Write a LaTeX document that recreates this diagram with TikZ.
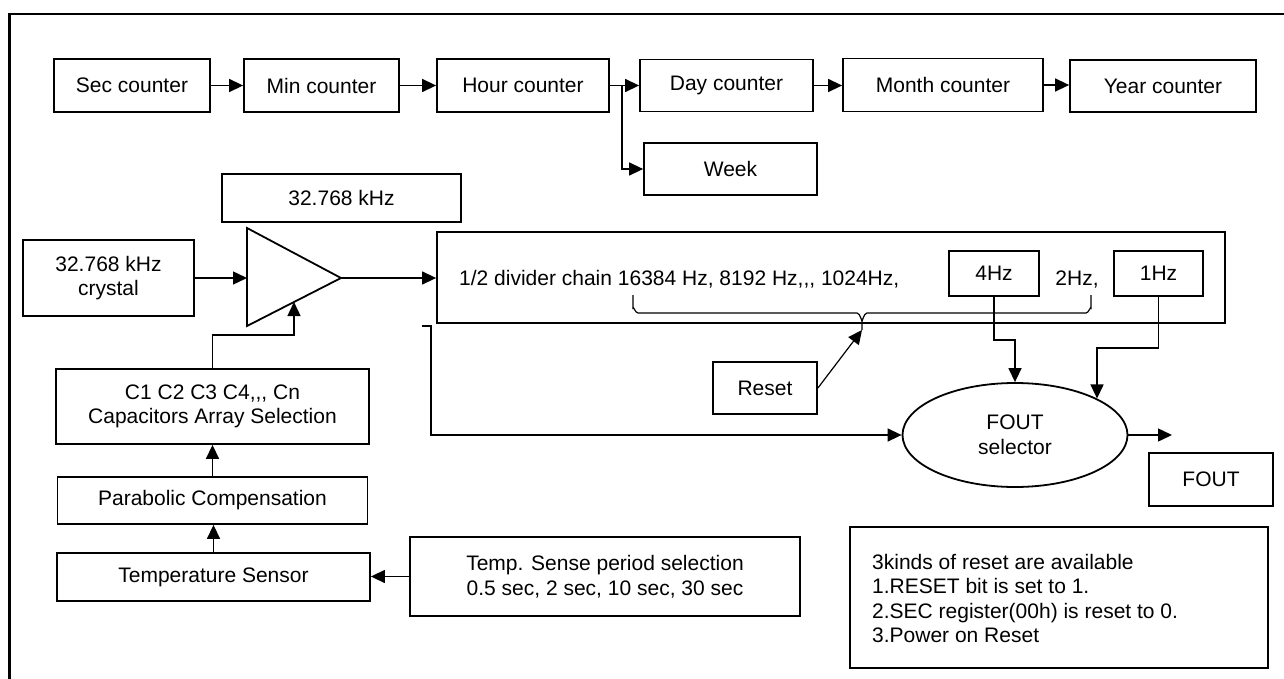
\documentclass[tikz,border=0pt]{standalone}
\usepackage{fontspec}
\setmainfont{Liberation Sans}[Ligatures=TeXOff]
\usetikzlibrary{arrows.meta,shapes.geometric}
\tikzset{
  box/.style={draw, line width=1.8pt, inner sep=0pt, align=center, font=\fontsize{21}{24.5}\selectfont},
  lbl/.style={inner sep=0pt, align=left, font=\fontsize{21}{24.5}\selectfont},
  conn/.style={line width=1.4pt, -{Triangle[length=14pt,width=13pt]}},
  plain/.style={line width=1.4pt},
}
\begin{document}
\begin{tikzpicture}[x=1pt,y=-1pt]
\useasboundingbox (0,0) rectangle (1284,679);
% outer frame
\draw[line width=2.5pt] (9.5,679) -- (9.5,14) -- (1284,14);

% top row
\node[box, minimum width=156, minimum height=53] (sec) at (132,85.5) {Sec counter};
\node[box, minimum width=155, minimum height=53] (min) at (321.5,85.5) {Min counter};
\node[box, minimum width=172, minimum height=53] (hour) at (523,85.5) {Hour counter};
\node[box, minimum width=173, minimum height=52] (day) at (726.5,85.5) {Day counter};
\node[box, minimum width=200, minimum height=53] (month) at (943,85) {Month counter};
\node[box, minimum width=186, minimum height=52] (year) at (1163,86) {Year counter};
\node[box, minimum width=173, minimum height=52] (week) at (730.5,169) {Week};
\draw[conn] (sec) -- (min);
\draw[conn] (min) -- (hour);
\draw[conn] (hour) -- (day);
\draw[conn] (month.east) -- (year.west |- month.east);
\draw[conn] (day.east) -- (month.west |- day.east);
\coordinate (br) at (622,85.5);
\draw[conn] (br) |- (week.west);

% oscillator
\node[box, minimum width=239, minimum height=48] (khz) at (341.5,198) {32.768 kHz};
\node[box, minimum width=171, minimum height=76] (xtal) at (108.5,278) {32.768 kHz\\crystal};
\coordinate (ampA) at (247,228);
\coordinate (ampB) at (247,326);
\coordinate (ampT) at (341,278);
\coordinate (ampIn) at (247,278);
\coordinate (ampLow) at (294,302);
\draw[line width=1.8pt, line join=miter] (ampA) -- (ampT) -- (ampB) -- cycle;
\draw[conn] (xtal.east) -- (ampIn);

% divider
\node[box, minimum width=788, minimum height=91] (div) at (831,277.5) {};
\node[lbl, anchor=west] (divtxt) at (459,279) {1/2 divider chain 16384 Hz, 8192 Hz,,, 1024Hz,};
\node[box, minimum width=90, minimum height=45] (f4) at (994,273.5) {4Hz};
\node[lbl] (f2) at (1077,280) {2Hz,};
\node[box, minimum width=89, minimum height=45] (f1) at (1158.5,273.5) {1Hz};
\draw[conn] (ampT) -- (div.west |- ampT);

% brace
\coordinate (bt) at (862,330);
\draw[plain, line width=1.2pt] (633,295) -- (633,308) to[out=90,in=180] (638,313) -- (857,313)
  to[out=0,in=-90] (862,320) -- (bt);
\draw[plain, line width=1.2pt] (1091,295) -- (1091,308) to[out=90,in=0] (1086,313) -- (867,313)
  to[out=180,in=-90] (862,320);

% reset
\node[box, minimum width=104, minimum height=52] (reset) at (765,388) {Reset};
\draw[conn, line width=1.2pt] (reset.east) -- (bt);

% capacitor chain
\node[box, minimum width=313, minimum height=75] (cap) at (212.5,406.5) {C1 C2 C3 C4,,, Cn\\Capacitors Array Selection};
\node[box, minimum width=310, minimum height=47] (para) at (212.5,500.5) {Parabolic Compensation};
\node[box, minimum width=313, minimum height=48] (temp) at (213.5,577) {Temperature Sensor};
\node[box, minimum width=390, minimum height=79] (tsel) at (605,576.5) {Temp. Sense period selection\\0.5 sec, 2 sec, 10 sec, 30 sec};
\draw[conn] (cap.north) -- (cap.north |- 0,335) -| (ampLow);
\draw[conn] (para.north) -- (para.north |- cap.south);
\draw[conn] (temp.north) -- (temp.north |- para.south);
\draw[conn] (tsel.west) -- (temp.east |- tsel.west);

% FOUT selector
\node[box, ellipse, minimum width=225, minimum height=104] (fsel) at (1015,435) {FOUT\\selector};
\coordinate (fa) at (422,326);
\draw[conn] (fa) -- (431,326) |- (fsel.west);
\draw[conn] (f4.south) -- (f4.south |- 0,340) -| (fsel.north);
\draw[conn] (f1.south) -- (f1.south |- 0,348) -| (fsel.24);
\coordinate (fo) at (1172,435);
\draw[conn] (fsel.east) -- (fo);
\node[box, minimum width=124, minimum height=53] (fout) at (1211,479.5) {FOUT};

% note
\node[box, minimum width=418, minimum height=141] (note) at (1059,597.5) {};
\node[lbl, anchor=west] (notetxt) at (872,598.5) {3kinds of reset are available\\1.RESET bit is set to 1.\\2.SEC register(00h) is reset to 0.\\3.Power on Reset};
\end{tikzpicture}
\end{document}
